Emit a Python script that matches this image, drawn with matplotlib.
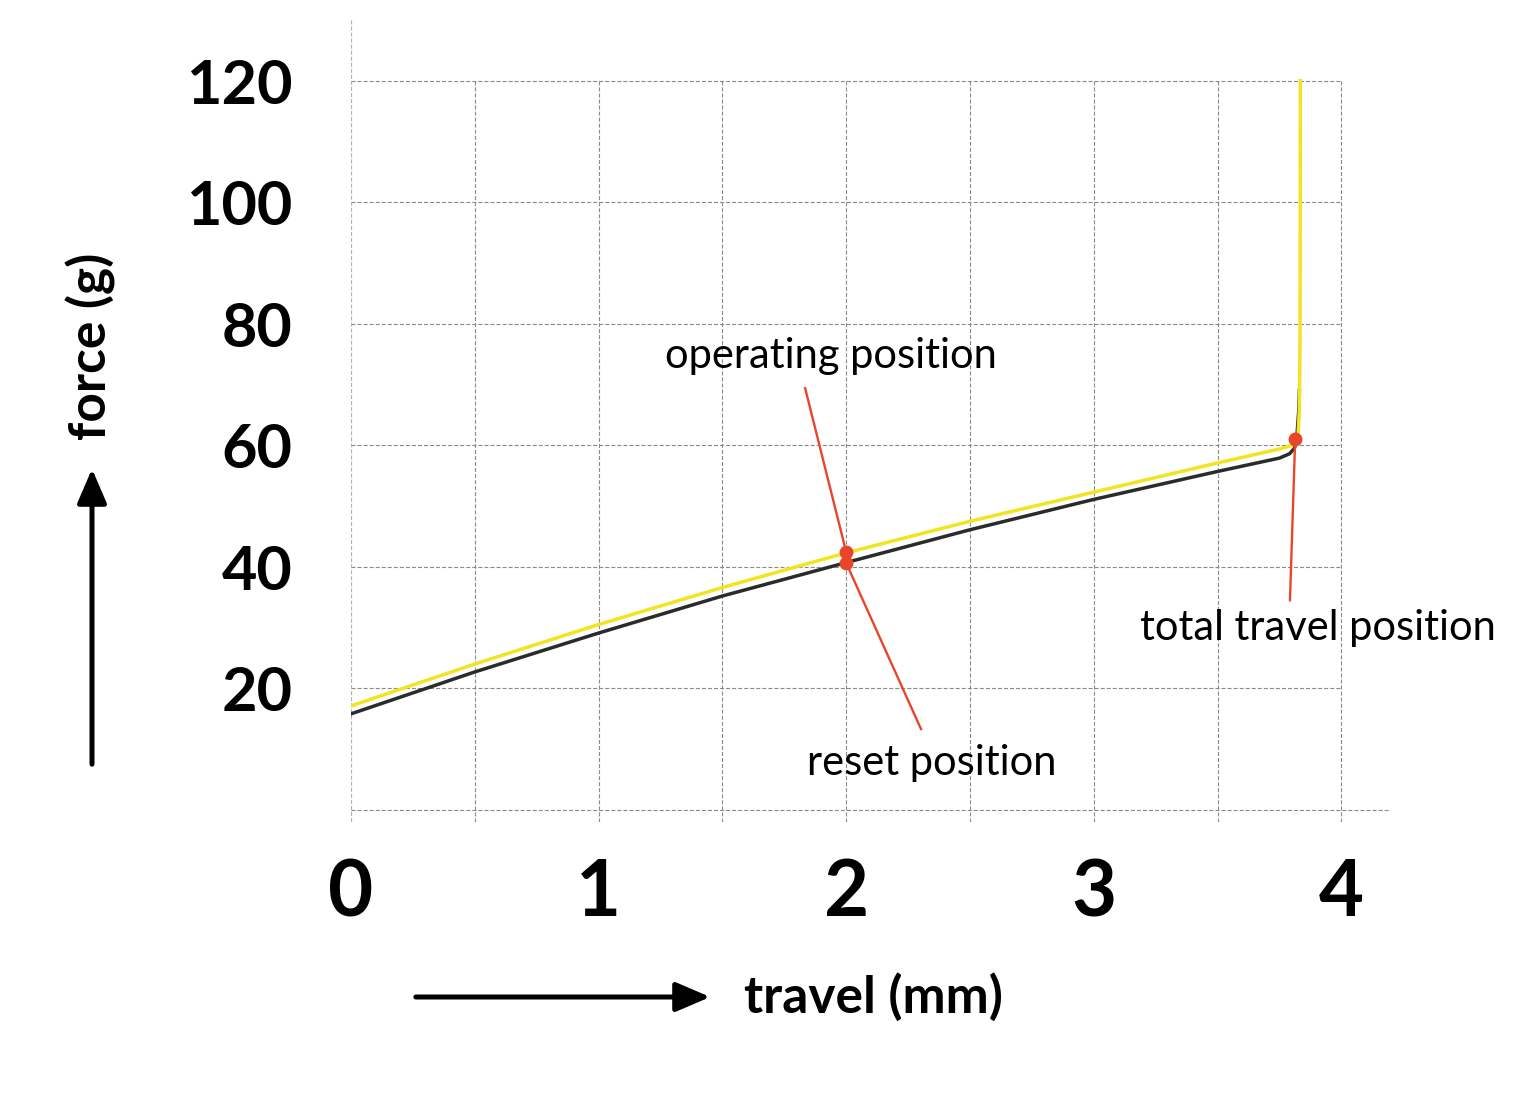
import matplotlib.pyplot as plt
from matplotlib.patches import FancyArrowPatch

plt.rcParams['font.family'] = ['Lato', 'DejaVu Sans']
plt.rcParams['lines.scale_dashes'] = False

# press (yellow) and release (black) curves, travel in mm, force in g
press_x = [0, 0.5, 1, 1.5, 2, 2.5, 3, 3.5, 3.75, 3.8, 3.815, 3.825, 3.83, 3.833, 3.834]
press_y = [17.1, 24.0, 30.5, 36.6, 42.3, 47.5, 52.3, 57.1, 59.4, 60.0, 60.6, 62.0, 66.0, 80.0, 120.0]
release_x = [0, 0.5, 1, 1.5, 2, 2.5, 3, 3.5, 3.75, 3.79, 3.81, 3.82, 3.828, 3.83]
release_y = [15.8, 22.7, 29.1, 35.2, 40.7, 46.1, 51.1, 55.7, 57.9, 58.6, 59.5, 61.5, 66.0, 69.0]

# marked points: label, point, end of the pointer line, label position
marks = ['operating position', 'reset position', 'total travel position']
mark_pts = [(2.0, 42.4), (2.0, 40.6), (3.813, 61.0)]
line_ends = [(1.834, 69.4), (2.302, 13.3), (3.792, 34.5)]
label_pos = [(1.94, 72.7), (2.347, 5.7), (3.906, 27.9)]

xticks = [0, 1, 2, 3, 4]
yticks = [20, 40, 60, 80, 100, 120]

fig = plt.figure(figsize=(15.17, 10.99), dpi=100)
ax = fig.add_axes([351/1517, 277/1099, 1040/1517, 802/1099])
ax.set_xlim(0, 4.2)
ax.set_ylim(-2, 130)
for s in ax.spines.values():
    s.set_visible(False)

grid = dict(color='#8a8a8a', lw=0.8, ls=(0, (2.9, 1.45)), zorder=1)
for y in [0, 20, 40, 60, 80, 100, 120]:
    ax.plot([0, 4.2 if y == 0 else 4], [y, y], **grid)
for x in [0.5, 1, 1.5, 2, 2.5, 3, 3.5, 4]:
    ax.plot([x, x], [-2, 120], **grid)
ax.plot([0, 0], [-2, 130], color='#b0b0b0', lw=1.6, ls=(0, (2.9, 1.45)), zorder=1)

ax.plot(release_x, release_y, color='#2b2b2b', lw=2.5, zorder=3, solid_joinstyle='round')
ax.plot(press_x, press_y, color='#f2e421', lw=2.5, zorder=4, solid_joinstyle='round')

for name, p, e, t in zip(marks, mark_pts, line_ends, label_pos):
    ax.plot([p[0], e[0]], [p[1], e[1]], color='#e8452a', lw=1.7, zorder=5)
    ax.plot(p[0], p[1], 'o', color='#e8452a', ms=9, zorder=6)
    ax.text(t[0], t[1], name, fontsize=30, ha='center', va='baseline', color='black')

ax.set_xticks(xticks)
ax.set_xticklabels([str(v) for v in xticks], fontsize=56, fontweight='bold')
ax.set_yticks(yticks)
ax.set_yticklabels([str(v) for v in yticks], fontsize=44, fontweight='bold')
ax.tick_params(axis='x', length=0, pad=26)
ax.tick_params(axis='y', length=0, pad=42)

# axis arrows and titles
arrow = dict(transform=fig.transFigure, arrowstyle='-|>,head_length=1.4,head_width=0.6',
             mutation_scale=15, color='black', lw=3.6)
fig.add_artist(FancyArrowPatch((92/1517, 1 - 767/1099), (92/1517, 1 - 466/1099), **arrow))
fig.add_artist(FancyArrowPatch((413/1517, 1 - 997/1099), (713/1517, 1 - 997/1099), **arrow))
fig.text(91/1517, 1 - 346/1099, 'force (g)', rotation=90, fontsize=37, fontweight='bold',
         ha='center', va='center')
fig.text(744/1517, 1 - 997/1099, 'travel (mm)', fontsize=37, fontweight='bold',
         ha='left', va='center')

fig.savefig('out.png', dpi=100)
